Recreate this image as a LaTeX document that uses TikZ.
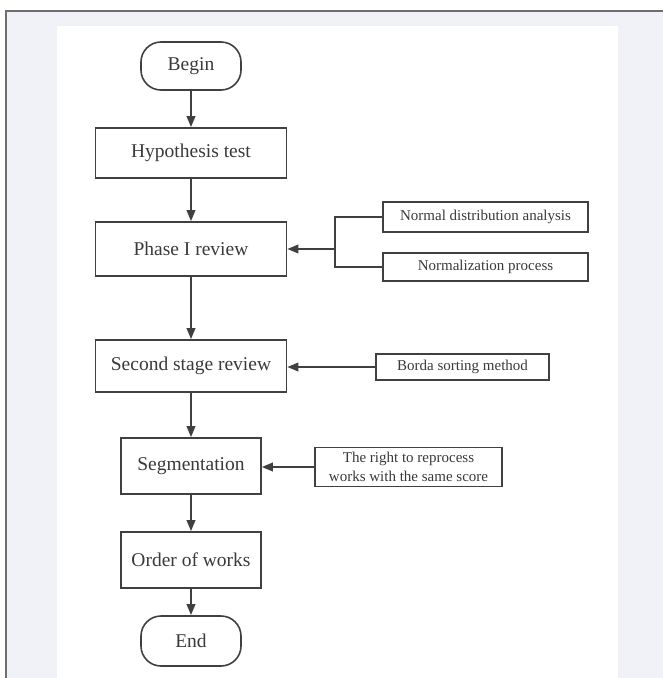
\documentclass[tikz,border=0pt]{standalone}
\usepackage{fontspec}
\setmainfont{Liberation Serif}
\usetikzlibrary{arrows.meta}
\definecolor{ln}{HTML}{404040}
\definecolor{tx}{HTML}{3A3A3A}
\definecolor{bg}{HTML}{F1F2F7}
\definecolor{fr}{HTML}{6E6E6E}
\tikzset{
  mainbox/.style={draw=ln, line width=1.6pt, fill=white, text=tx, inner sep=0pt,
    font=\fontsize{19.5}{22}\selectfont},
  sidebox/.style={draw=ln, line width=1.6pt, fill=white, text=tx, inner sep=0pt,
    align=center, font=\fontsize{15}{19}\selectfont},
  termbox/.style={mainbox, rounded corners=20pt},
  arr/.style={draw=ln, line width=1.9pt, -{Triangle[length=11pt,width=8.5pt]}},
  link/.style={draw=ln, line width=1.6pt}
}
\begin{document}
\begin{tikzpicture}[x=1pt,y=-1pt]
\useasboundingbox (0,0) rectangle (662,678);
\fill[white] (0,0) rectangle (662,678);
\fill[bg] (6,11) rectangle (664,680);
\draw[fr, line width=1.2pt] (6,680) -- (6,11) -- (664,11);
\fill[white] (57,26) rectangle (618,680);

\node[termbox, minimum width=100pt, minimum height=48pt] (begin) at (191,66) {Begin};
\node[mainbox, minimum width=191pt, minimum height=50pt] (hyp) at (191,153) {Hypothesis test};
\node[mainbox, minimum width=191pt, minimum height=54pt] (ph1) at (191,249) {Phase I review};
\node[mainbox, minimum width=191pt, minimum height=52pt] (sec) at (191,366) {Second stage review};
\node[mainbox, minimum width=140pt, minimum height=56pt] (seg) at (191,466) {Segmentation};
\node[mainbox, minimum width=140pt, minimum height=56pt] (ord) at (191,560) {Order of works};
\node[termbox, minimum width=100pt, minimum height=50pt] (end) at (191,641) {End};

\node[sidebox, minimum width=205pt, minimum height=30pt] (nda) at (485.5,217) {Normal distribution analysis};
\node[sidebox, minimum width=205pt, minimum height=28pt] (np) at (485.5,267) {Normalization process};
\node[sidebox, minimum width=173pt, minimum height=26pt] (borda) at (462.5,367) {Borda sorting method};
\node[sidebox, minimum width=187pt, minimum height=39pt] (rr) at (408.5,467) {The right to reprocess\\works with the same score};

\coordinate (j) at (335,249);

\draw[arr] (begin) -- (hyp);
\draw[arr] (hyp) -- (ph1);
\draw[arr] (ph1) -- (sec);
\draw[arr] (sec) -- (seg);
\draw[arr] (seg) -- (ord);
\draw[arr] (ord) -- (end);

\draw[link] (nda.west) -| (j) |- (np.west);
\draw[arr] (j) -- (ph1.east);
\draw[arr] (borda.west) -- (sec.east |- borda.west);
\draw[arr] (rr.west) -- (seg.east |- rr.west);
\end{tikzpicture}
\end{document}
